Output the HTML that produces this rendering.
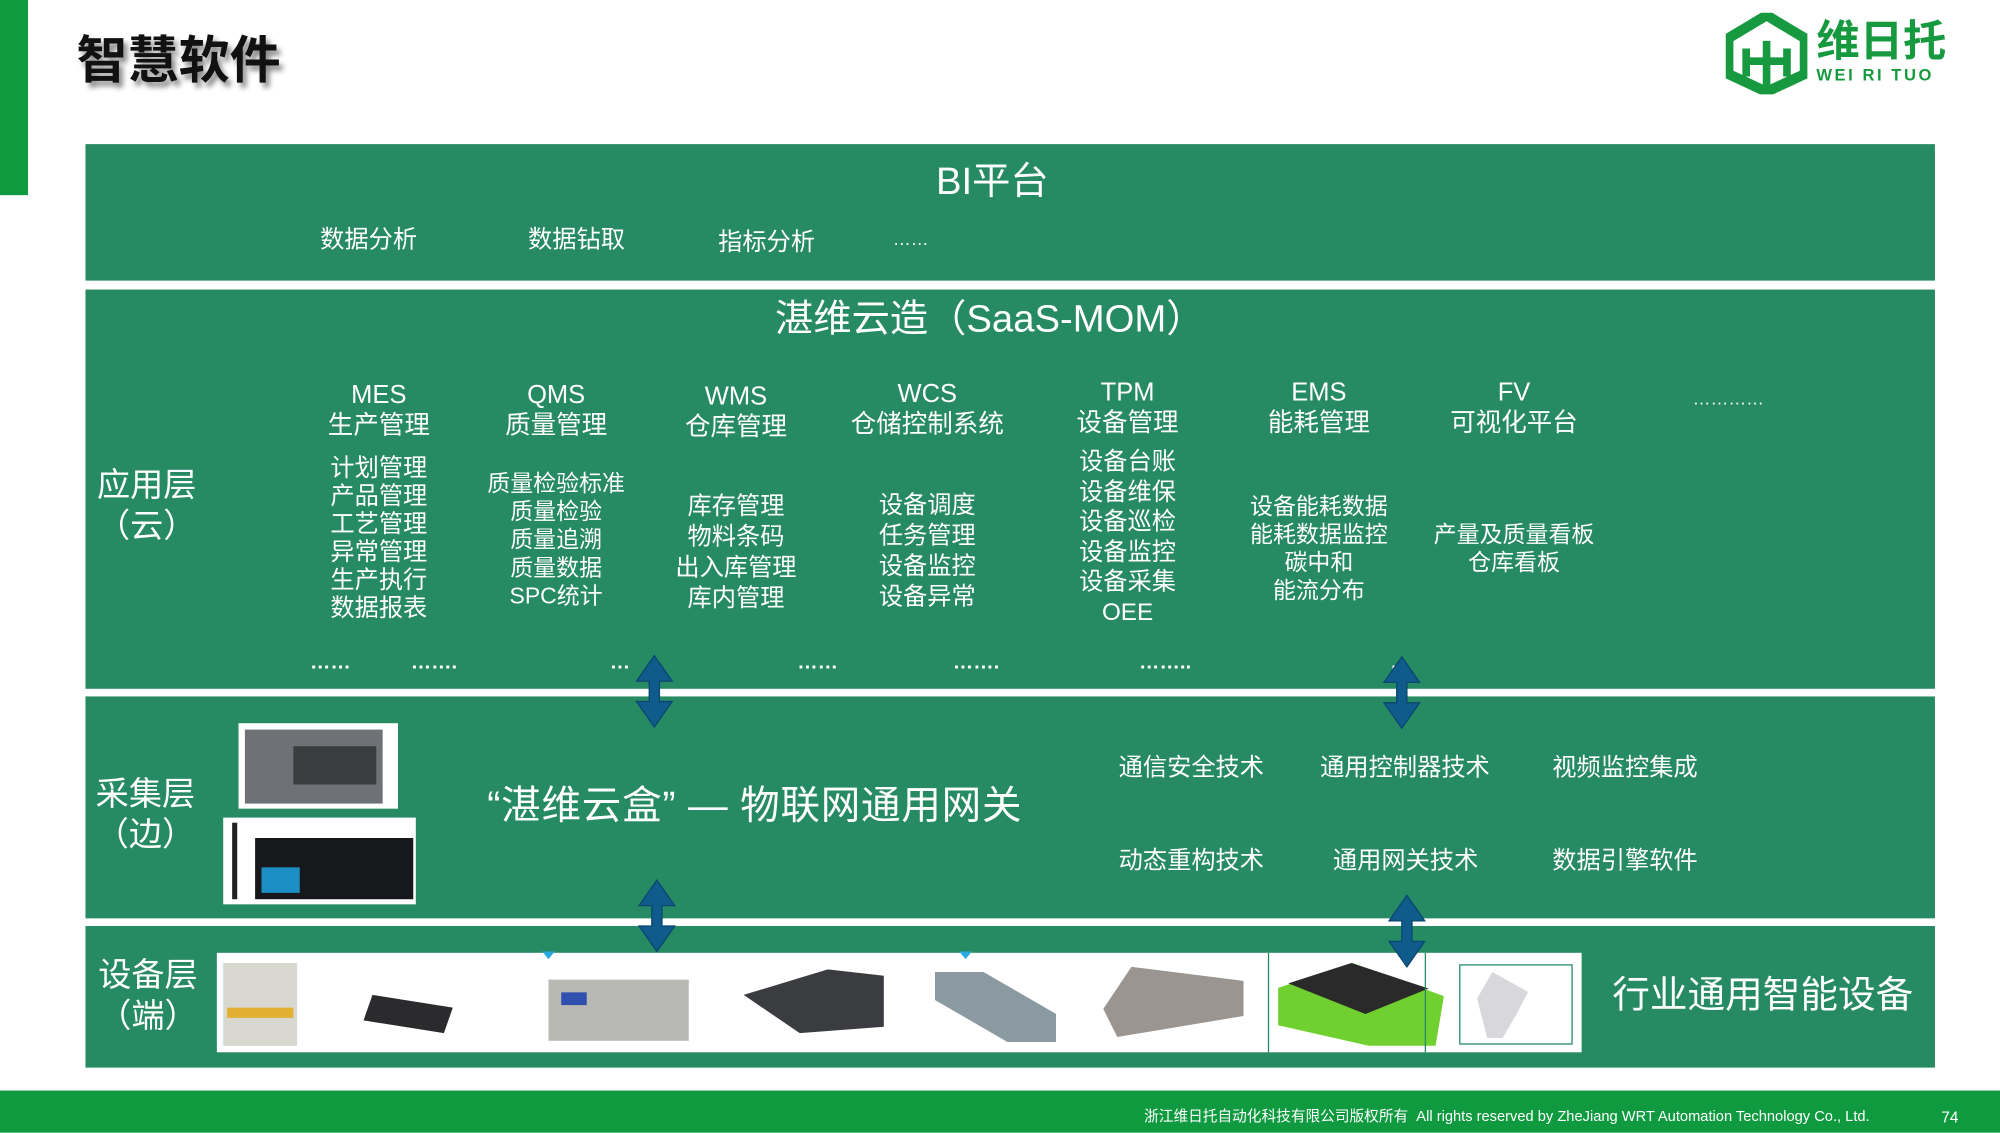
<!DOCTYPE html>
<html><head><meta charset="utf-8"><style>
html,body{margin:0;padding:0;background:#fff;overflow:hidden;width:2000px;height:1133px}
#s{position:absolute;left:0;top:0;width:1568px;height:888px;transform:scale(1.27551);transform-origin:0 0;font-family:"Liberation Sans","Noto Sans CJK SC",sans-serif;color:#fff}
.a{position:absolute;white-space:nowrap;line-height:1}
.c{transform:translateX(-50%);text-align:center}
.box{position:absolute;left:67px;width:1450px;background:#268a62}
.col{position:absolute;transform:translateX(-50%);text-align:center;font-size:19px;white-space:nowrap}
.arr{position:absolute}
</style></head><body><div id="s">
<div style="position:absolute;left:0;top:0;width:22px;height:153px;background:#0f9a40"></div>
<div class="a" style="left:60px;top:28px;font-size:40px;font-weight:bold;color:#111;text-shadow:3px 4px 4px #888">智慧软件</div>
<svg style="position:absolute;left:1353px;top:10px" width="64" height="64" viewBox="0 0 64 64"><path d="M32 2 L62 20 L62 48 L32 62 L2 48 L2 20 Z" fill="none" stroke="#17993f" stroke-width="8"/><path d="M16 28 L16 50 M32 22 L32 58 M48 28 L48 50 M16 38 L48 38" stroke="#17993f" stroke-width="6"/></svg>
<div class="a" style="left:1424px;top:16px;font-size:34px;font-weight:bold;color:#17993f">维日托</div>
<div class="a" style="left:1424px;top:52px;font-size:13px;font-weight:bold;color:#17993f;letter-spacing:2px">WEI RI TUO</div>

<div class="box" style="top:113px;height:107px"></div>
<div class="a c" style="left:778px;top:128px;font-size:30px">BI平台</div>
<div class="a" style="left:251px;top:179px;font-size:19px">数据分析</div>
<div class="a" style="left:414px;top:179px;font-size:19px">数据钻取</div>
<div class="a" style="left:563px;top:181px;font-size:19px">指标分析</div>
<div class="a" style="left:700px;top:180px;font-size:14px">……</div>

<div class="box" style="top:227px;height:313px"></div>
<div class="a c" style="left:776px;top:236px;font-size:30px">湛维云造（SaaS-MOM）</div>
<div class="a" style="left:76px;top:364px;font-size:26px;line-height:32px">应用层<br>（云）</div>
<div class="col" style="left:297px;top:298px;line-height:24px;font-size:20px">MES<br>生产管理</div>
<div class="col" style="left:436px;top:298px;line-height:24px;font-size:20px">QMS<br>质量管理</div>
<div class="col" style="left:577px;top:299px;line-height:24px;font-size:20px">WMS<br>仓库管理</div>
<div class="col" style="left:727px;top:297px;line-height:24px;font-size:20px">WCS<br>仓储控制系统</div>
<div class="col" style="left:884px;top:296px;line-height:24px;font-size:20px">TPM<br>设备管理</div>
<div class="col" style="left:1034px;top:296px;line-height:24px;font-size:20px">EMS<br>能耗管理</div>
<div class="col" style="left:1187px;top:296px;line-height:24px;font-size:20px">FV<br>可视化平台</div>
<div class="a" style="left:1327px;top:305px;font-size:14px">…………</div>
<div class="col" style="left:297px;top:357px;line-height:22px">计划管理<br>产品管理<br>工艺管理<br>异常管理<br>生产执行<br>数据报表</div>
<div class="col" style="left:436px;top:368px;line-height:22px;font-size:18px">质量检验标准<br>质量检验<br>质量追溯<br>质量数据<br>SPC统计</div>
<div class="col" style="left:577px;top:386px;line-height:24px">库存管理<br>物料条码<br>出入库管理<br>库内管理</div>
<div class="col" style="left:727px;top:385px;line-height:24px">设备调度<br>任务管理<br>设备监控<br>设备异常</div>
<div class="col" style="left:884px;top:351px;line-height:23.6px">设备台账<br>设备维保<br>设备巡检<br>设备监控<br>设备采集<br>OEE</div>
<div class="col" style="left:1034px;top:386px;line-height:22px;font-size:18px">设备能耗数据<br>能耗数据监控<br>碳中和<br>能流分布</div>
<div class="col" style="left:1187px;top:408px;line-height:22px;font-size:18px">产量及质量看板<br>仓库看板</div>
<div class="a" style="left:243px;top:512px;font-size:16px;font-weight:bold">……</div>
<div class="a" style="left:322px;top:512px;font-size:16px;font-weight:bold">…….</div>
<div class="a" style="left:478px;top:512px;font-size:16px;font-weight:bold">…</div>
<div class="a" style="left:625px;top:512px;font-size:16px;font-weight:bold">……</div>
<div class="a" style="left:747px;top:512px;font-size:16px;font-weight:bold">…….</div>
<div class="a" style="left:893px;top:512px;font-size:16px;font-weight:bold">……..</div>
<div class="a" style="left:1090px;top:512px;font-size:16px;font-weight:bold">…</div>

<div class="box" style="top:546px;height:174px"></div>
<div class="a" style="left:75px;top:606px;font-size:26px;line-height:32px">采集层<br>（边）</div>
<div style="position:absolute;left:187px;top:567px;width:125px;height:67px;background:#fff"></div>
<div style="position:absolute;left:192px;top:572px;width:108px;height:58px;background:#6e7176"></div>
<div style="position:absolute;left:230px;top:585px;width:65px;height:30px;background:#3a3c40"></div>
<div style="position:absolute;left:175px;top:641px;width:151px;height:68px;background:#fff"></div>
<div style="position:absolute;left:182px;top:645px;width:4px;height:60px;background:#222"></div>
<div style="position:absolute;left:200px;top:657px;width:124px;height:48px;background:#16181c"></div>
<div style="position:absolute;left:205px;top:680px;width:30px;height:20px;background:#1c8ec4"></div>
<div class="a" style="left:382px;top:616px;font-size:31px;letter-spacing:0.6px">“湛维云盒” — 物联网通用网关</div>
<div class="a" style="left:877px;top:593px;font-size:19px">通信安全技术</div>
<div class="a" style="left:1035px;top:593px;font-size:19px">通用控制器技术</div>
<div class="a" style="left:1217px;top:593px;font-size:19px">视频监控集成</div>
<div class="a" style="left:877px;top:666px;font-size:19px">动态重构技术</div>
<div class="a" style="left:1045px;top:666px;font-size:19px">通用网关技术</div>
<div class="a" style="left:1217px;top:666px;font-size:19px">数据引擎软件</div>

<div class="box" style="top:726px;height:111px"></div>
<div class="a" style="left:77px;top:748px;font-size:26px;line-height:32px">设备层<br>（端）</div>
<div style="position:absolute;left:170px;top:747px;width:1070px;height:78px;background:#fff"></div>
<div style="position:absolute;left:175px;top:755px;width:58px;height:65px;background:#d8d8d0"></div><div style="position:absolute;left:178px;top:790px;width:52px;height:8px;background:#e2b030"></div>
<div style="position:absolute;left:285px;top:760px;width:70px;height:50px;background:#2b2b2e;clip-path:polygon(10% 40%,100% 60%,90% 100%,0 80%)"></div>
<div style="position:absolute;left:430px;top:768px;width:110px;height:48px;background:#b8b8b4"></div><div style="position:absolute;left:440px;top:778px;width:20px;height:10px;background:#3050b0"></div>
<div style="position:absolute;left:583px;top:760px;width:110px;height:50px;background:#3a3c40;clip-path:polygon(0 40%,60% 0,100% 10%,100% 90%,40% 100%)"></div>
<div style="position:absolute;left:733px;top:762px;width:95px;height:55px;background:#8a9aa0;clip-path:polygon(0 0,40% 0,100% 60%,100% 100%,60% 100%,0 40%)"></div>
<div style="position:absolute;left:865px;top:758px;width:110px;height:55px;background:#9a9590;clip-path:polygon(20% 0,100% 20%,100% 70%,10% 100%,0 60%)"></div>
<div style="position:absolute;left:994px;top:747px;width:1px;height:78px;background:#258a62"></div>
<div style="position:absolute;left:1002px;top:755px;width:130px;height:65px;background:#6fd030;clip-path:polygon(0 30%,45% 0,100% 40%,95% 100%,55% 100%,0 75%)"></div>
<div style="position:absolute;left:1010px;top:755px;width:110px;height:40px;background:#2a2a2a;clip-path:polygon(0 40%,45% 0,100% 50%,55% 100%)"></div>
<div style="position:absolute;left:1117px;top:747px;width:1px;height:78px;background:#258a62"></div>
<div style="position:absolute;left:1144px;top:756px;width:89px;height:63px;border:1px solid #258a62;box-sizing:border-box"></div>
<div style="position:absolute;left:1158px;top:762px;width:40px;height:52px;background:#d8d8dc;clip-path:polygon(30% 0,100% 30%,80% 60%,50% 100%,20% 100%,0 40%)"></div>
<div class="a" style="left:1264px;top:766px;font-size:29.5px">行业通用智能设备</div>

<svg class="arr" style="left:0;top:0" width="1568" height="888">
<defs><g id="da"><polygon points="0,-28 -14,-8 -4,-8 -4,8 -14,8 0,28 14,8 4,8 4,-8 14,-8" fill="#0e5b8c" stroke="#0a4670" stroke-width="1"/></g></defs>
<use href="#da" x="513" y="542"/>
<use href="#da" x="1099" y="543"/>
<use href="#da" x="515" y="718"/>
<use href="#da" x="1103" y="730"/>
<polygon points="425,746 435,746 430,752" fill="#2aa8e0"/>
<polygon points="752,746 762,746 757,752" fill="#2aa8e0"/>
</svg>

<div style="position:absolute;left:0;top:855px;width:1568px;height:33px;background:#0f9a40"></div>
<div class="a" style="left:897px;top:871px;font-size:11.5px">浙江维日托自动化科技有限公司版权所有 &nbsp;All rights reserved by ZheJiang WRT Automation Technology Co., Ltd.</div>
<div class="a" style="left:1522px;top:870px;font-size:12px">74</div>
</div></body></html>
